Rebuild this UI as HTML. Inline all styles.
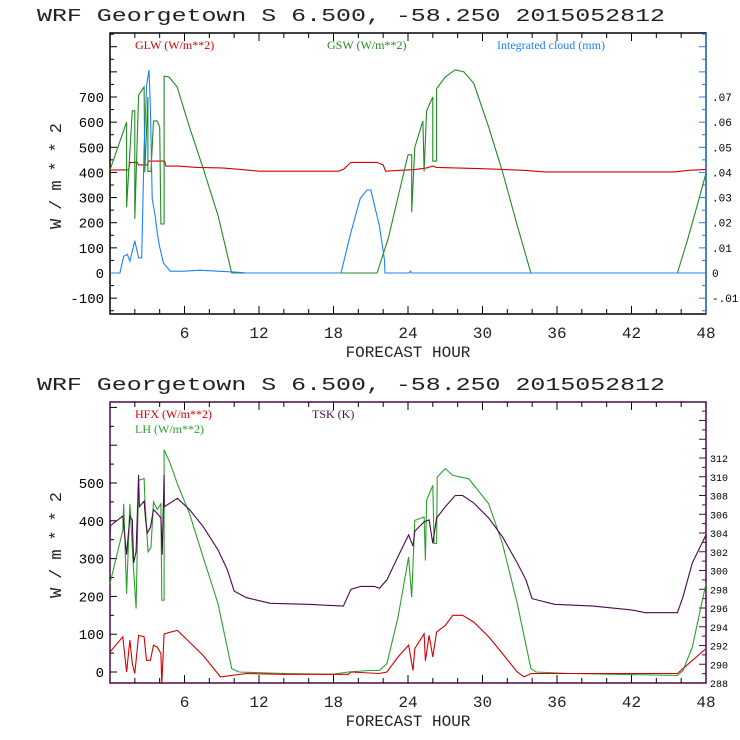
<!DOCTYPE html>
<html><head><meta charset="utf-8"><style>
html,body{margin:0;padding:0;background:#fff;}
svg{display:block;font-family:"Liberation Mono",monospace;}
</style></head><body>
<svg id="chart" width="740" height="740" viewBox="0 0 740 740"></svg>
<script>
// ---- Top panel data (hours, W/m**2; cloud in mm) ----
const hoursAxis=[6,12,18,24,30,36,42,48];
const leftTicksTop=[-100,0,100,200,300,400,500,600,700];
const rightTicksTop=["-.01","0",".01",".02",".03",".04",".05",".06",".07"];
const rightTickValsTop=[-0.01,0,0.01,0.02,0.03,0.04,0.05,0.06,0.07];
const glwT=[0,1.5,1.6,2.2,2.3,3.0,3.1,4.4,4.5,5.5,7,9,10.5,12,18.4,18.8,19.4,21.5,22.0,22.2,24,24.6,25.5,26,26.3,30,33.5,35,45.5,46.5,48];
const glwV=[410,410,440,440,430,430,445,445,425,425,420,418,412,405,405,412,440,440,430,405,410,412,418,425,420,415,408,402,402,408,412];
const gswT=[0,1.34,1.34,1.8,2.0,2.0,2.3,2.75,2.8,3.05,3.05,3.3,3.5,3.8,4.0,4.1,4.36,4.36,4.74,5.4,6.4,7.5,8.7,9.8,21.5,22.4,24,24.3,24.3,24.55,25.2,25.3,25.5,26,26,26.3,26.3,27,27.8,28.5,29.3,30.5,31.6,32.8,33.9,45.7,46.5,47.3,48];
const gswV=[410,600,262,645,645,215,707,740,400,700,404,404,605,605,580,195,195,783,780,740,580,417,229,0,0,135,470,470,242,500,605,404,645,700,445,445,733,780,808,800,754,580,404,188,0,0,130,270,397];
const cldT=[0,0.8,1.1,1.4,1.6,2.0,2.3,2.55,2.75,2.95,3.14,3.25,3.4,3.63,3.8,3.98,4.3,4.86,6,7.2,8.7,10.2,11,18.6,19.4,20.15,20.7,21.0,21.7,22.1,22.15,24.1,24.2,24.3,48];
const cldV=[0,0,0.0067,0.0074,0.0047,0.0128,0.006,0.006,0.0498,0.0747,0.0808,0.066,0.0296,0.0229,0.0161,0.0108,0.004,0.0007,0.0007,0.0011,0.0007,0.0003,0,0,0.0161,0.0296,0.033,0.033,0.0188,0.0054,0,0,0.0007,0,0];
// ---- Bottom panel data ----
const leftTicksBot=[0,100,200,300,400,500];
const rightTicksBot=[288,290,292,294,296,298,300,302,304,306,308,310,312];
const tskT=[0,0.05,1.03,1.34,1.6,1.8,1.9,2.1,2.3,2.37,2.75,2.87,3.0,3.25,3.5,3.8,4.1,4.2,4.36,4.37,5.43,6.4,7.5,8.7,9.45,10,11,12.9,15.9,18.8,19.4,20.2,21.3,21.7,22.3,23.2,24.05,24.4,24.55,25.3,25.7,26,26.3,27,27.8,28.4,29.3,30.5,31.6,32.8,33.5,33.99,35.8,38.9,42,43.1,45.7,46.15,46.9,48];
const tskV=[303.6,304.8,305.8,301.7,305.8,305.4,300.8,302,310.2,306.8,307.4,305.4,304,304.6,306.5,306.1,305.6,301.7,310.2,306.8,307.7,306.5,304.7,302.2,300.1,297.8,297.1,296.5,296.4,296.2,298,298.3,298.3,298.1,299,301.5,303.8,302.6,304.2,305.2,305.4,302.9,305.6,306.8,308,308,307.2,305.6,303.6,300.8,299,297,296.4,296.2,295.8,295.5,295.5,297.2,300.8,303.8];
const lhT=[0,1.03,1.1,1.34,1.6,1.87,2.1,2.3,2.75,2.83,3.06,3.3,3.5,3.8,4.1,4.17,4.36,4.36,4.86,5.43,6.4,7.5,8.7,9.8,10.4,14,17.9,19.2,20.9,21.7,22.3,23.2,24.05,24.3,24.55,25.3,25.4,25.5,26,26.1,26.3,26.35,27,27.6,28.9,30.5,31.6,32.8,33.9,34.3,37,40.8,45.7,46.15,46.9,48];
const lhV=[234,375,445,207,445,287,168,507,512,445,318,330,450,430,445,190,190,588,551,498,419,304,181,9,0,-4,-6,0,4,4,22,146,304,198,401,410,295,454,494,340,340,516,538,520,511,445,340,181,9,0,-4,-6,-9,4,66,234];
const hfxT=[0,1.03,1.34,1.6,1.8,2.0,2.3,2.75,2.94,3.25,3.5,3.8,4.1,4.17,4.36,5.43,6.4,7.5,8.9,9.8,11,14,19.2,19.4,21.7,22.3,23.2,24.05,24.4,24.55,25.3,25.4,25.7,26,26.3,27,27.6,28.4,29.3,30.5,31.6,32.8,33.35,33.9,45.7,48];
const hfxV=[53,93,0,84,22,-4,97,93,31,31,71,66,49,-31,101,110,79,44,-13,-9,-4,-6,-6,0,-4,0,40,71,4,62,101,30,97,40,106,123,150,150,132,93,49,0,-13,-4,-4,62];

const svg=document.getElementById('chart');
const NS='http://www.w3.org/2000/svg';
function mk(tag,attrs,parent){const e=document.createElementNS(NS,tag);for(const k in attrs)e.setAttribute(k,attrs[k]);(parent||svg).appendChild(e);return e;}

const P1={x0:110,x1:706,y0:33,y1:314,zeroY:273,perUnit:176/700};
const P2={x0:110,x1:706,y0:402,y1:683,zeroY:672,perUnit:189/500};
function xs(p,h){return p.x0+(h/48)*(p.x1-p.x0);}
function ysW(p,v){return p.zeroY-v*p.perUnit;}
function ysCloud(v){return ysW(P1,v*10000);}
function ysK(v){return 683-(v-288)*(225/24);}

function title(y,name){
  const t=mk('text',{x:37,y:y,'font-size':'18','fill':'#222','textLength':'628','lengthAdjust':'spacingAndGlyphs'});
  
  
  t.textContent='WRF  Georgetown S  6.500, -58.250  2015052812';
}
function text(x,y,s,opt,name){
  const t=mk('text',Object.assign({x:x,y:y,'font-size':'13',fill:'#000'},opt||{}));
  
  
  t.textContent=s;return t;
}
function line(x1,y1,x2,y2,c,name){
  const l=mk('line',{x1:x1,y1:y1,x2:x2,y2:y2,stroke:c,'stroke-width':1});
  
  
}
function series(p,T,V,yf,color,name){
  let d='';
  for(let i=0;i<T.length;i++){d+=(i?'L':'M')+xs(p,T[i]).toFixed(1)+' '+yf(V[i]).toFixed(1);}
  const e=mk('path',{d:d,fill:'none',stroke:color,'stroke-width':1.1});
  
  
}
function xAxis(p,labelY,name){
  for(let h=2;h<48;h+=2){
    const L=(h%6==0)?8:5;
    line(xs(p,h),p.y1,xs(p,h),p.y1-L,'#000',name+'-tick');
    line(xs(p,h),p.y0,xs(p,h),p.y0+L,'#000',name+'-tick');
  }
  hoursAxis.forEach(h=>text(xs(p,h),labelY,String(h),{'font-size':'16','text-anchor':'middle',fill:'#222'},name+'-label'));
  text(408,labelY+19,'FORECAST HOUR',{'font-size':'16','text-anchor':'middle',fill:'#222'},name+'-title');
}

// ===== Top panel =====
title(21,'top-title');
const f1=mk('rect',{x:P1.x0,y:P1.y0,width:P1.x1-P1.x0,height:P1.y1-P1.y0,fill:'none',stroke:'#000','stroke-width':1.5});


line(P1.x1,P1.y0,P1.x1,P1.y1,'#1e7fff','top-right-axis');
for(let v=-150;v<=950;v+=50){const y=ysW(P1,v);if(y<P1.y0||y>P1.y1)continue;line(P1.x0,y,P1.x0+(v%100==0?7:4),y,'#000','top-left-tick');line(P1.x1,y,P1.x1-(v%100==0?7:4),y,'#1e7fff','top-right-tick');}
leftTicksTop.forEach(v=>text(104,ysW(P1,v)+5,String(v),{'font-size':'14','text-anchor':'end'},'top-y-tick-label'));
rightTickValsTop.forEach((v,i)=>text(712,ysCloud(v)+4,rightTicksTop[i],{'font-size':'11'},'top-y2-tick-label'));
xAxis(P1,338,'top-x-axis');
text(0,0,'W/m**2',{'font-size':'17','text-anchor':'middle',fill:'#222',textLength:'106',lengthAdjust:'spacing',transform:'translate(61,176) rotate(-90)'},'top-y-axis-title');
text(135,49,'GLW (W/m**2)',{'font-size':'12','font-family':'Liberation Serif,serif',fill:'#d40000'},'legend-glw');
text(327,49,'GSW (W/m**2)',{'font-size':'12','font-family':'Liberation Serif,serif',fill:'#228b22'},'legend-gsw');
text(497,49,'Integrated cloud (mm)',{'font-size':'12','font-family':'Liberation Serif,serif',fill:'#1e7fff'},'legend-cloud');
series(P1,glwT,glwV,v=>ysW(P1,v),'#d40000','glw-line');
series(P1,gswT,gswV,v=>ysW(P1,v),'#228b22','gsw-line');
series(P1,cldT,cldV,ysCloud,'#1e7fff','cloud-line');

// ===== Bottom panel =====
title(390,'bottom-title');
const f2=mk('rect',{x:P2.x0,y:P2.y0,width:P2.x1-P2.x0,height:P2.y1-P2.y0,fill:'none',stroke:'#4b0a4b','stroke-width':1.5});


for(let v=0;v<=800;v+=50){const y=ysW(P2,v);if(y<P2.y0)continue;line(P2.x0,y,P2.x0+(v%100==0?7:4),y,'#000','bottom-left-tick');}
for(let k=288;k<=318;k+=1){const y=ysK(k);if(y<P2.y0)continue;line(P2.x1,y,P2.x1-(k%2==0?7:4),y,'#4b0a4b','bottom-right-tick');}
leftTicksBot.forEach(v=>text(104,ysW(P2,v)+5,String(v),{'font-size':'14','text-anchor':'end'},'bottom-y-tick-label'));
rightTicksBot.forEach(v=>text(710,ysK(v)+4,String(v),{'font-size':'10'},'bottom-y2-tick-label'));
xAxis(P2,707,'bottom-x-axis');
text(0,0,'W/m**2',{'font-size':'17','text-anchor':'middle',fill:'#222',textLength:'106',lengthAdjust:'spacing',transform:'translate(61,545) rotate(-90)'},'bottom-y-axis-title');
text(135,418,'HFX (W/m**2)',{'font-size':'12','font-family':'Liberation Serif,serif',fill:'#d40000'},'legend-hfx');
text(135,433,'LH  (W/m**2)',{'font-size':'12','font-family':'Liberation Serif,serif',fill:'#2ca02c'},'legend-lh');
text(312,418,'TSK (K)',{'font-size':'12','font-family':'Liberation Serif,serif',fill:'#4b0a4b'},'legend-tsk');
series(P2,lhT,lhV,v=>ysW(P2,v),'#2ca02c','lh-line');
series(P2,hfxT,hfxV,v=>ysW(P2,v),'#d40000','hfx-line');
series(P2,tskT,tskV,ysK,'#4b0a4b','tsk-line');
</script>
</body></html>
